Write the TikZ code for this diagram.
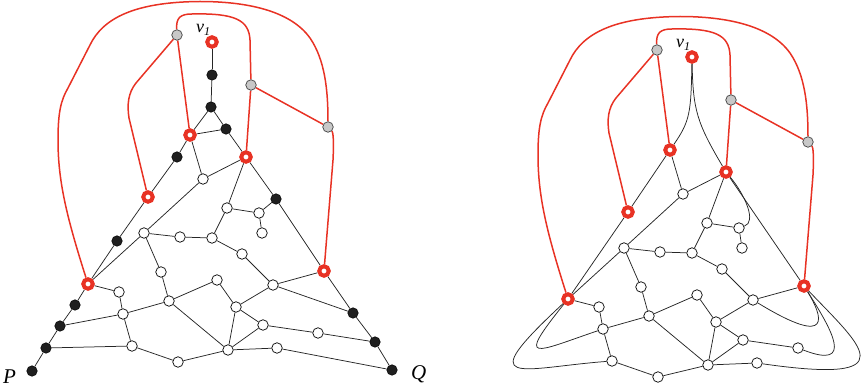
\documentclass[tikz,border=0pt]{standalone}
\usepackage{fontspec}
\setmainfont{Liberation Serif}
\definecolor{redc}{RGB}{232,50,36}
\definecolor{grayc}{RGB}{200,200,200}
\pgfdeclarelayer{bg}\pgfsetlayers{bg,main}
\tikzset{
 wn/.style={circle,draw=black,fill=white,line width=0.7pt,inner sep=0pt,minimum size=10.5pt},
 bn/.style={circle,draw=black,fill=black!88,line width=0.5pt,inner sep=0pt,minimum size=10.5pt},
 rn/.style={circle,draw=redc,fill=white,line width=4pt,inner sep=0pt,minimum size=9.5pt},
 gn/.style={circle,draw=black!75,fill=grayc,line width=0.7pt,inner sep=0pt,minimum size=10.5pt},
 ed/.style={line width=0.75pt,black!85},
 re/.style={line width=1.5pt,redc,line join=round},
 lab/.style={font=\fontsize{21}{22}\selectfont\itshape,inner sep=0pt,anchor=base west},
 vlab/.style={font=\fontsize{18}{20}\selectfont\itshape,inner sep=0pt,anchor=base west}
}
\newcommand\mknodes[1]{%
 \node[rn] (#1v1) at (212,42) {};
 \node[rn] (#1R1) at (190,135) {};
 \node[rn] (#1R2) at (246,157) {};
 \node[rn] (#1R3) at (148,197) {};
 \node[rn] (#1R4) at (88,284) {};
 \node[rn] (#1R5) at (324,271) {};
 \node[gn] (#1g1) at (177,35) {};
 \node[gn] (#1g2) at (251,85) {};
 \node[gn] (#1g3) at (328,127) {};
 \node[wn] (#1wa) at (203,179) {};
 \node[wn] (#1wb) at (227,208) {};
 \node[wn] (#1wc) at (259,213) {};
 \node[wn] (#1wd) at (262,233) {};
 \node[wn] (#1we) at (144,233) {};
 \node[wn] (#1wf) at (180,237) {};
 \node[wn] (#1wg) at (212,238) {};
 \node[wn] (#1wh) at (242,254) {};
 \node[wn] (#1wi) at (161,272) {};
 \node[wn] (#1wj) at (217,280) {};
 \node[wn] (#1wk) at (273,285) {};
 \node[wn] (#1wl) at (119,292) {};
 \node[wn] (#1wm) at (169,301) {};
 \node[wn] (#1wn) at (236,307) {};
 \node[wn] (#1wo) at (123,314) {};
 \node[wn] (#1wp) at (263,325) {};
 \node[wn] (#1wq) at (318,333) {};
 \node[wn] (#1wr) at (132,346) {};
 \node[wn] (#1ws) at (228,350) {};
 \node[wn] (#1wt) at (277,348) {};
 \node[wn] (#1wu) at (178,362) {};
 \node[vlab] (#1vlab) at (196,33) {v\raisebox{-3pt}{\fontsize{12}{12}\selectfont 1}};
}
\newcommand\mkcommon[1]{%
 \foreach \a/\b in {R1/wa,wa/R2,wa/we,R2/wb,wb/wc,wc/wd,wb/wg,R4/we,R4/wl,we/wf,wf/wg,wg/wh,wh/wk,wk/R5,we/wi,wi/wm,wl/wo,wo/wr,wo/wm,wr/wu,wu/ws,wm/wj,wm/ws,wj/wn,wn/wk,wn/wp,wn/ws,ws/wp,wp/wq,ws/wt}{\draw[ed] (#1\a) -- (#1\b);}
}
\newcommand\mkframe[1]{%
 \draw[re] (#1g1) -- (#1R1);
 \draw[re] (#1g1) -- (136,83) .. controls (128,93) and (127,105) .. (129,118) -- (#1R3);
 \draw[re] (#1g1) .. controls (176,18) and (180,14) .. (192,14) .. controls (235,13) and (249,20) .. (250,40) -- (#1g2);
 \draw[re] (#1g2) -- (#1R2);
 \draw[re] (#1g2) -- (#1g3);
 \draw[re] (#1R4) .. controls (66,215) and (58,180) .. (58,140) .. controls (58,112) and (61,100) .. (68,88) -- (90,45) .. controls (103,18) and (135,2) .. (200,1.5) .. controls (245,1.5) and (290,10) .. (310,38) .. controls (325,60) and (328,90) .. (#1g3);
 \draw[re] (#1g3) .. controls (333,132) and (334,140) .. (333,160) -- (#1R5);
}
\begin{document}
\begin{tikzpicture}[x=1pt,y=-1pt]
\useasboundingbox (0,0) rectangle (863,390);
% ---------- left graph ----------
\mknodes{L}
\node[bn] (Lb1) at (212,75) {};
\node[bn] (Lb2) at (211,107) {};
\node[bn] (Lb3) at (226,129) {};
\node[bn] (Lb4) at (177,157) {};
\node[bn] (Lb5) at (276,199) {};
\node[bn] (Lb6) at (117,241) {};
\node[bn] (Lb7) at (75,305) {};
\node[bn] (Lb8) at (60,326) {};
\node[bn] (Lb9) at (46,348) {};
\node[bn] (LP) at (32,371) {};
\node[bn] (Lb10) at (353,313) {};
\node[bn] (Lb11) at (375,342) {};
\node[bn] (LQ) at (392,370) {};
\node[lab] (LPl) at (3,384) {P};
\node[lab] (LQl) at (411,380) {Q};
\begin{pgfonlayer}{bg}
\mkcommon{L}
\foreach \a/\b in {P/b9,b9/b8,b8/b7,b7/R4,R4/b6,b6/R3,R3/b4,b4/R1,R1/b2,b2/b1,b1/v1,b2/b3,b3/R1,b3/R2,R2/b5,b5/R5,R5/b10,b10/b11,b11/Q,b5/wc,b10/wk,b11/wq,b8/wo,b9/wr,wt/Q}{\draw[ed] (L\a) -- (L\b);}
\mkframe{L}
\end{pgfonlayer}
% ---------- right graph ----------
\begin{scope}[shift={(480,15)}]
\mknodes{R}
\begin{pgfonlayer}{bg}
\mkcommon{R}
\draw[ed] (RR1) -- (RR3);
\draw[ed] (RR3) -- (RR4);
\draw[ed] (RR2) -- (RR5);
\draw[ed] (Rv1) .. controls (211,98) and (210,106) .. (RR1);
\draw[ed] (Rv1) .. controls (213,95) and (217,108) .. (RR2);
\draw[ed] (RR2) .. controls (265,180) and (277,207) .. (Rwc);
\draw[ed] (RR5) .. controls (342,300) and (355,335) .. (Rwk);
\draw[ed] (RR5) .. controls (352,315) and (375,355) .. (Rwq);
\draw[ed] (RR5) .. controls (380,330) and (430,370) .. (Rwt);
\draw[ed] (RR4) .. controls (35,350) and (55,337) .. (Rwo);
\draw[ed] (RR4) .. controls (-10,375) and (40,353) .. (Rwr);
\mkframe{R}
\end{pgfonlayer}
\end{scope}
\end{tikzpicture}
\end{document}
